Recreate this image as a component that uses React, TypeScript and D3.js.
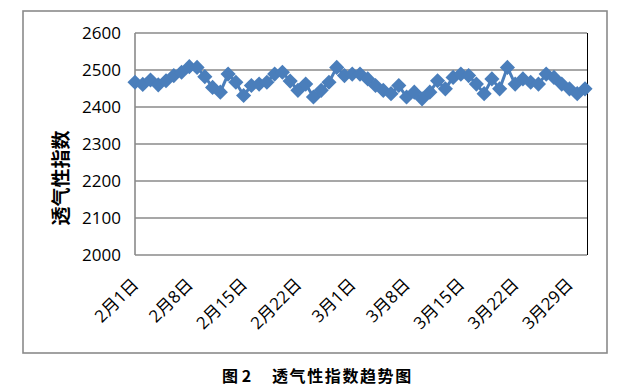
import React from 'react';
import * as d3 from 'd3';

// 透气性指数, 2月1日 .. 3月31日 (daily)
const startDay = new Date(Date.UTC(2015, 1, 1));
const endDay = new Date(Date.UTC(2015, 2, 31));
const values = [
  2467, 2461, 2473, 2460, 2471, 2485, 2494, 2509, 2507, 2482,
  2453, 2440, 2489, 2467, 2431, 2458, 2462, 2467, 2489, 2494,
  2470, 2445, 2462, 2427, 2445, 2467, 2507, 2485, 2489, 2489,
  2476, 2458, 2445, 2436, 2458, 2427, 2440, 2422, 2440, 2471,
  2449, 2480, 2489, 2485, 2462, 2436, 2476, 2449, 2507, 2462,
  2476, 2467, 2462, 2489, 2480, 2462, 2449, 2436, 2449,
];
const yTicks = [2000, 2100, 2200, 2300, 2400, 2500, 2600];
const yTitle = '透气性指数';
const captionNo = '图 2';
const captionText = '透气性指数趋势图';

const W = 619;
const H = 392;
const plot = { left: 135, right: 585, top: 33, bottom: 255 };
const blue = '#4a7ebb';
const grey = '#8a8a8a';
const font = '"Open Sans", "Noto Sans CJK SC", sans-serif';

export default function App() {
  const days = d3.utcDay.range(startDay, d3.utcDay.offset(endDay, 1));
  const data = days.map((d, i) => ({ date: d, v: values[i] }));

  const x = d3.scaleUtc().domain([startDay, endDay]).range([plot.left, plot.right]);
  const y = d3.scaleLinear().domain([2000, 2600]).range([plot.bottom, plot.top]);

  // weekly ticks from Feb 1
  const weekly = d3.range(0, 57, 7).map((k) => d3.utcDay.offset(startDay, k));
  const fmt = d3.utcFormat('%-m月%-d日');

  const line = d3.line<{ date: Date; v: number }>()
    .x((d) => x(d.date))
    .y((d) => y(d.v));
  const diamond = d3.symbol(d3.symbolSquare, 115)();

  return (
    <svg width={W} height={H} style={{ position: 'absolute', left: 0, top: 0, background: '#fff' }}>
      <rect x={23} y={11} width={584} height={342} fill="#fff" stroke={grey} strokeWidth={1.6} />

      {yTicks.map((t) => (
        <g key={t}>
          <line x1={plot.left} x2={587} y1={y(t)} y2={y(t)} stroke={grey} strokeWidth={1.6} />
          <text x={121} y={y(t)} dy="0.35em" textAnchor="end" fontFamily={font} fontSize={17} fill="#000">
            {t}
          </text>
        </g>
      ))}
      <line x1={plot.left} x2={plot.left} y1={plot.top} y2={plot.bottom} stroke={grey} strokeWidth={1.6} />
      <line x1={587.5} x2={587.5} y1={plot.top} y2={plot.bottom} stroke="#000" strokeWidth={1} />

      <text
        transform={`translate(61,${(plot.top + plot.bottom) / 2 + 34}) rotate(-90)`}
        textAnchor="middle"
        dy="0.35em"
        fontFamily='"Noto Sans CJK SC", sans-serif'
        fontWeight={700}
        fontSize={19}
        fill="#000"
      >
        {yTitle}
      </text>

      {weekly.map((d) => (
        <text
          key={+d}
          transform={`translate(${x(d)},281) rotate(-45)`}
          textAnchor="end"
          dominantBaseline="central"
          fontFamily={font}
          fontSize={17}
          fill="#000"
        >
          {fmt(d)}
        </text>
      ))}

      <path d={line(data) ?? ''} fill="none" stroke={blue} strokeWidth={3} strokeLinejoin="round" />
      {data.map((d, i) => (
        <path
          key={i}
          d={diamond ?? ''}
          transform={`translate(${x(d.date)},${y(d.v)}) rotate(45)`}
          fill={blue}
        />
      ))}

      <text x={222} y={376} dy="0.35em" fontFamily='"Noto Sans CJK SC", serif' fontWeight={700} fontSize={16} fill="#000">
        {captionNo}
      </text>
      <text x={272} y={376} dy="0.35em" fontFamily='"Noto Sans CJK SC", serif' fontWeight={700} fontSize={16} letterSpacing={1.6} fill="#000">
        {captionText}
      </text>
    </svg>
  );
}
